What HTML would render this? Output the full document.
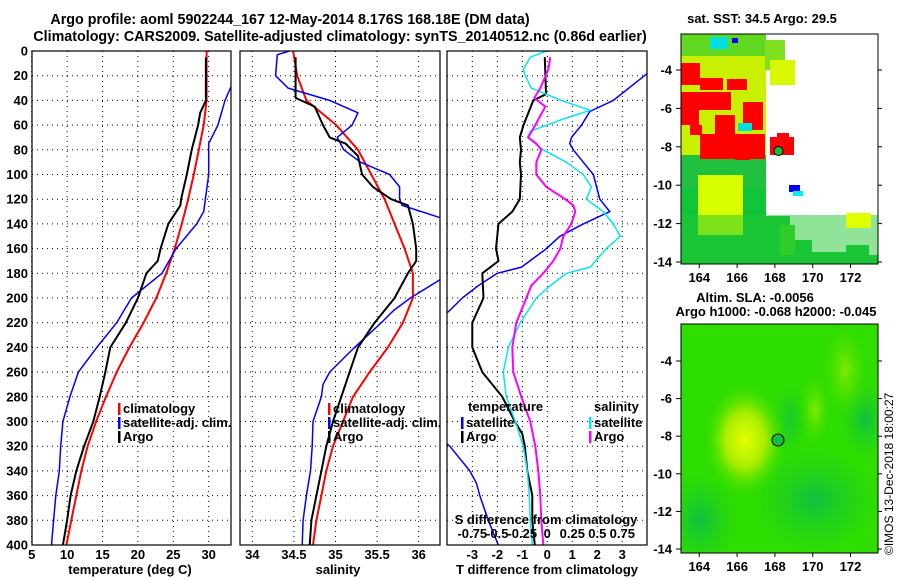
<!DOCTYPE html>
<html><head><meta charset="utf-8"><style>
body{margin:0;background:#fff}
svg{display:block;font-family:"Liberation Sans",sans-serif;font-weight:bold}
text{font-size:13px;fill:#000}
</style></head><body>
<svg id="fig" width="900" height="580" viewBox="0 0 900 580">
<defs>
<clipPath id="c1"><rect x="32" y="51" width="199" height="494"/></clipPath>
<clipPath id="c2"><rect x="240" y="51" width="200" height="494"/></clipPath>
<clipPath id="c3"><rect x="447" y="51" width="200" height="494"/></clipPath>
<clipPath id="cm1"><rect x="681" y="34" width="197" height="230"/></clipPath>
<clipPath id="cm2"><rect x="681" y="324" width="197" height="229"/></clipPath>
<radialGradient id="yb" cx="0.5" cy="0.5" r="0.5"><stop offset="0" stop-color="#e6ff00"/><stop offset="0.5" stop-color="#a8ee00"/><stop offset="1" stop-color="#50e000" stop-opacity="0"/></radialGradient>
<radialGradient id="yb2" cx="0.5" cy="0.5" r="0.5"><stop offset="0" stop-color="#80ea00"/><stop offset="1" stop-color="#50e000" stop-opacity="0"/></radialGradient>
<radialGradient id="dg" cx="0.5" cy="0.5" r="0.5"><stop offset="0" stop-color="#10c040"/><stop offset="1" stop-color="#20d020" stop-opacity="0"/></radialGradient>
</defs>
<text x="290" y="24" text-anchor="middle" style="font-size:14.3px">Argo profile: aoml 5902244_167 12-May-2014 8.176S 168.18E (DM data)</text>
<text x="340" y="41" text-anchor="middle" style="font-size:14.3px">Climatology: CARS2009. Satellite-adjusted climatology: synTS_20140512.nc (0.86d earlier)</text>
<g id="maps">
<g>
<rect x="681" y="34" width="197" height="230" fill="#fff"/>
<g clip-path="url(#cm1)">
<polygon points="681,188 766,188 766,216 790,216 790,240 812,240 812,252 846,252 846,245 869,245 869,255 878,255 878,264 681,264" fill="#12c43a"/>
<rect x="681" y="34" width="85" height="154" fill="#c8f000"/>
<rect x="681" y="155" width="85" height="33" fill="#20c040"/>
<rect x="681" y="34" width="85" height="22" fill="#60d820"/>
<rect x="765" y="40" width="20" height="30" fill="#7ee020"/>
<rect x="770" y="60" width="25" height="25" fill="#d8f800"/>
<rect x="780" y="225" width="15" height="30" fill="#40d020"/>
<rect x="698" y="175" width="45" height="60" fill="#d8ff00"/>
<rect x="681" y="215" width="197" height="49" fill="#22c832" opacity="0.5"/>
<rect x="846" y="213" width="25" height="15" fill="#e0ff00"/>
<rect x="681" y="63" width="19" height="22" fill="#ff0000"/>
<rect x="681" y="92" width="50" height="18" fill="#ff0000"/>
<rect x="700" y="78" width="23" height="12" fill="#ff0000"/>
<rect x="727" y="79" width="20" height="11" fill="#ff0000"/>
<rect x="681" y="105" width="18" height="20" fill="#ff0000"/>
<rect x="743" y="102" width="20" height="28" fill="#ff0000"/>
<rect x="700" y="134" width="65" height="25" fill="#ff0000"/>
<rect x="715" y="115" width="20" height="20" fill="#ff0000"/>
<rect x="770" y="137" width="24" height="18" fill="#ff0000"/>
<rect x="777" y="133" width="12" height="8" fill="#ff0000"/>
<rect x="690" y="125" width="12" height="10" fill="#ff0000"/>
<rect x="735" y="150" width="15" height="10" fill="#ff0000"/>
<rect x="710" y="37" width="18" height="12" fill="#00e0e0"/>
<rect x="738" y="123" width="14" height="8" fill="#00e0e0"/>
<rect x="789" y="185" width="11" height="7" fill="#0000ff"/>
<rect x="793" y="191" width="10" height="5" fill="#00f0f0"/>
<rect x="732" y="38" width="6" height="5" fill="#0000ff"/>
<circle cx="778.5" cy="151" r="4.5" fill="#10c030" stroke="#000" stroke-width="1"/>
</g>
<rect x="681" y="34" width="197" height="230" fill="none" stroke="#000" stroke-width="1"/>
</g>
<g>
<rect x="681" y="324" width="197" height="229" fill="#2ede00"/>
<g clip-path="url(#cm2)">
<ellipse cx="700" cy="520" rx="40" ry="50" fill="url(#dg)"/>
<ellipse cx="815" cy="500" rx="65" ry="55" fill="url(#dg)"/>
<ellipse cx="865" cy="420" rx="25" ry="40" fill="url(#dg)"/>
<ellipse cx="790" cy="420" rx="18" ry="40" fill="url(#dg)" opacity="0.7"/>
<ellipse cx="845" cy="370" rx="22" ry="45" fill="url(#yb2)"/>
<ellipse cx="815" cy="410" rx="15" ry="35" fill="url(#yb2)"/>
<ellipse cx="745" cy="440" rx="40" ry="55" fill="url(#yb)"/>
<circle cx="778" cy="440" r="6" fill="#10c040" stroke="#000" stroke-width="1"/>
</g>
<rect x="681" y="324" width="197" height="229" fill="none" stroke="#000" stroke-width="1"/>
</g>
<text x="762" y="23" text-anchor="middle">sat. SST: 34.5 Argo: 29.5</text>
<text x="755" y="302" text-anchor="middle">Altim. SLA: -0.0056</text>
<text x="776" y="316" text-anchor="middle">Argo h1000: -0.068 h2000: -0.045</text>
<text transform="translate(893,555) rotate(-90)" style="font-weight:normal;font-size:12px">©IMOS 13-Dec-2018 18:00:27</text>
</g>
<g id="plots"></g>
</svg>
<script>
// ---- data (depth in dbar) ----
const depthTicks=[0,20,40,60,80,100,120,140,160,180,200,220,240,260,280,300,320,340,360,380,400];
const tTicks=[5,10,15,20,25,30];
const sTicks=[34,34.5,35,35.5,36];
const dTTicks=[-3,-2,-1,0,1,2,3];
const dSTickLabels=["-0.75","-0.5","-0.25","0","0.25","0.5","0.75"];
const dSTickValues=[-0.75,-0.5,-0.25,0,0.25,0.5,0.75];
const lonTicks=[164,166,168,170,172];
const latTicks=[-4,-6,-8,-10,-12,-14];

const climT_d=[0,20,40,60,80,100,120,140,160,180,200,220,240,260,280,300,320,340,360,380,400];
const climT=[29.7,29.7,29.7,29.3,28.6,27.9,27.1,26.2,25.2,24.0,22.6,20.8,18.8,17.0,15.5,14.1,12.9,12.0,11.3,10.6,9.9];
const argoT_d=[5,40,50,60,80,100,120,125,140,160,170,180,200,220,240,260,280,300,320,340,360,380,400];
const argoT=[29.6,29.6,28.8,28.5,27.6,26.9,26.1,26.0,24.3,23.2,22.8,21.2,20.0,18.3,16.1,15.4,14.6,13.7,12.4,11.3,10.5,10.0,9.4];
const satT_d=[18,40,60,75,100,130,140,160,180,200,220,240,260,280,300,320,340,360,380,400];
const satT=[34.0,32.3,31.3,30.0,30.0,29.3,28.3,25.4,23.4,19.1,17.0,14.2,11.6,10.4,9.4,9.1,8.9,8.4,8.1,7.8];

const climS_d=[0,20,40,60,80,100,120,140,160,180,200,220,240,260,280,300,320,340,360,380,400];
const climS=[34.49,34.54,34.65,35.01,35.27,35.43,35.59,35.71,35.83,35.93,35.93,35.81,35.63,35.41,35.21,35.09,34.97,34.89,34.83,34.77,34.73];
const argoS_d=[5,20,38,45,60,70,75,85,100,110,120,125,140,160,170,180,200,220,240,260,280,300,320,340,360,380,400];
const argoS=[34.52,34.52,34.52,34.75,34.85,34.93,35.12,35.27,35.32,35.45,35.67,35.87,35.93,35.97,35.97,35.87,35.71,35.47,35.27,35.17,35.07,34.97,34.89,34.83,34.77,34.71,34.69];
const satS_d=[0,3,20,30,40,50,60,70,80,90,100,110,120,125,135,140,180,185,200,210,220,240,260,270,280,300,320,340,360,380,400];
const satS=[34.45,34.3,34.28,34.43,34.93,35.27,35.2,35.02,35.1,35.3,35.65,35.77,35.77,35.8,36.26,36.5,36.5,36.26,35.9,35.7,35.55,35.23,34.93,34.85,34.83,34.73,34.72,34.7,34.65,34.61,34.6];

const dTsat_d=[15,40,49,60,70,75,80,90,100,120,130,140,150,160,175,180,190,200,210,220,310,320,340,350,360,380,400];
const dTsat=[4.2,2.64,1.7,1.37,0.97,0.9,1.04,1.44,1.84,2.1,2.5,1.44,0.5,-0.03,-1.03,-2.0,-2.76,-3.4,-3.9,-4.5,-4.5,-3.9,-3.1,-2.83,-2.7,-2.36,-1.96];
const dTargo_d=[5,35,40,60,70,80,90,100,120,130,140,160,170,180,200,220,240,260,280,300,310,320,340,360,380,400];
const dTargo=[-0.1,-0.05,-0.56,-0.95,-1.1,-1.05,-1.1,-1.05,-1.1,-1.4,-1.95,-2.05,-1.95,-2.6,-2.55,-3.0,-3.0,-2.6,-1.8,-1.3,-1.0,-0.9,-0.8,-0.6,-0.6,-0.5];
const dSsat_d=[0,5,15,20,30,40,48,55,65,70,80,90,100,110,120,130,140,150,160,175,180,190,200,220,240,260,280,300,320,340,360,380,400];
const dSsat=[-0.01,-0.17,-0.24,-0.22,-0.16,0.14,0.43,0.16,-0.17,-0.2,-0.04,0.19,0.36,0.44,0.39,0.56,0.66,0.73,0.59,0.43,0.19,0.03,-0.11,-0.27,-0.39,-0.44,-0.41,-0.32,-0.24,-0.2,-0.18,-0.17,-0.15];
const dSargo_d=[5,15,30,38,45,60,70,75,80,90,100,110,120,125,130,140,150,160,170,180,190,200,220,240,260,280,300,320,340,360,380,400];
const dSargo=[0.03,0.01,-0.07,-0.13,-0.02,-0.12,-0.19,-0.11,-0.06,-0.11,-0.11,-0.01,0.18,0.26,0.28,0.24,0.16,0.13,0.06,-0.04,-0.16,-0.21,-0.31,-0.35,-0.34,-0.26,-0.17,-0.12,-0.09,-0.07,-0.06,-0.04];

// ---- scales ----
const yD=d=>51+d*(494/400);
const xT=v=>31.7+(v-5)*7.08;
const xS=v=>252.3+(v-34)*83.2;
const xdT=v=>547.3+v*25;
const xdS=v=>547.3+v*100;
const xLon=v=>699.3+(v-164)*18.9;
const yLat1=v=>70+(-4-v)*19.2;
const yLat2=v=>361+(-4-v)*18.8;

const NS="http://www.w3.org/2000/svg";
const root=document.getElementById('plots');
function mk(tag,attrs,parent){const e=document.createElementNS(NS,tag);for(const k in attrs)e.setAttribute(k,attrs[k]);(parent||root).appendChild(e);return e;}
function txt(s,x,y,anchor,parent){const t=mk('text',{x:x,y:y,'text-anchor':anchor||'start'},parent);t.textContent=s;return t;}

function panel(name,x0,x1,xticks,xf,xlabels,clip){
  const g=mk('g',{});
  
  
  depthTicks.forEach(d=>{if(d>0&&d<400)mk('line',{x1:x0,x2:x1,y1:yD(d),y2:yD(d),stroke:'#000','stroke-width':1,'stroke-dasharray':'1,4'},g);});
  xticks.forEach((v,i)=>{const x=xf(v);mk('line',{x1:x,x2:x,y1:51,y2:545,stroke:'#000','stroke-width':1,'stroke-dasharray':'1,4'},g);
    if(xlabels){const t=txt(xlabels[i],x,559,'middle',g);}});
  const lg=mk('g',{'clip-path':'url(#'+clip+')'},g);
  return {g:g,lg:lg};
}
function series(p,name,ds,vs,xf,color,w){
  const pts=ds.map((d,i)=>xf(vs[i]).toFixed(1)+','+yD(d).toFixed(1)).join(' ');
  const pl=mk('polyline',{points:pts,fill:'none',stroke:color,'stroke-width':w,'stroke-linejoin':'round'},p.lg);
  
  
}
function frame(p,x0,x1){mk('rect',{x:x0,y:51,width:x1-x0,height:494,fill:'none',stroke:'#000','stroke-width':1.2},p.g);}
function legend(p,x,y,color,label,name){
  mk('rect',{x:x,y:y-10,width:2.5,height:12,fill:color},p.g);
  const t=txt(label,x+5,y,'start',p.g);
  
  
}

depthTicks.forEach(d=>{const t=txt(String(d),28,yD(d)+4.5,'end');
  
  });

const p1=panel('temperature-panel',32,231,tTicks,xT,tTicks.map(String),'c1');
series(p1,'temp-climatology-line',climT_d,climT,xT,'#ff0000',2);
series(p1,'temp-satellite-line',satT_d,satT,xT,'#0000ff',1.5);
series(p1,'temp-argo-line',argoT_d,argoT,xT,'#000',2);
frame(p1,32,231);
legend(p1,118,413,'#ff0000','climatology','legend-climatology');
legend(p1,118,427,'#0000ff','satellite-adj. clim.','legend-satellite-adj');
legend(p1,118,441,'#000','Argo','legend-argo');
const tt1=txt('temperature (deg C)',130,574,'middle');



const p2=panel('salinity-panel',240,440,sTicks,xS,['34','34.5','35','35.5','36'],'c2');
series(p2,'sal-climatology-line',climS_d,climS,xS,'#ff0000',2);
series(p2,'sal-satellite-line',satS_d,satS,xS,'#0000ff',1.5);
series(p2,'sal-argo-line',argoS_d,argoS,xS,'#000',2);
frame(p2,240,440);
legend(p2,328,413,'#ff0000','climatology','legend-climatology-s');
legend(p2,328,427,'#0000ff','satellite-adj. clim.','legend-satellite-adj-s');
legend(p2,328,441,'#000','Argo','legend-argo-s');
const tt2=txt('salinity',338,574,'middle');



const p3=panel('difference-panel',447,647,dTTicks,xdT,dTTicks.map(String),'c3');
series(p3,'dT-satellite-line',dTsat_d,dTsat,xdT,'#0000ff',1.5);
series(p3,'dT-argo-line',dTargo_d,dTargo,xdT,'#000',2);
series(p3,'dS-satellite-line',dSsat_d,dSsat,xdS,'#00e8f0',1.5);
series(p3,'dS-argo-line',dSargo_d,dSargo,xdS,'#ff00ff',2);
frame(p3,447,647);
const lt=txt('temperature',468,411,'start',p3.g);


legend(p3,461,427,'#0000ff','satellite','legend-dT-satellite');
legend(p3,461,441,'#000','Argo','legend-dT-argo');
const ls=txt('salinity',594,411,'start',p3.g);


legend(p3,589,427,'#00e8f0','satellite','legend-dS-satellite');
legend(p3,589,441,'#ff00ff','Argo','legend-dS-argo');
const sdt=txt('S difference from climatology',546,524,'middle',p3.g);


dSTickValues.forEach((v,i)=>{const t=txt(dSTickLabels[i],xdS(v),538,'middle',p3.g);
  
  });
const tt3=txt('T difference from climatology',547,574,'middle');



function mapAxes(name,yBottom,yf){
  const g=mk('g',{});
  
  
  lonTicks.forEach(v=>{const x=xLon(v);mk('line',{x1:x,x2:x,y1:yBottom,y2:yBottom+4,stroke:'#000'},g);txt(String(v),x,yBottom+18,'middle',g);});
  latTicks.forEach(v=>{const y=yf(v);mk('line',{x1:676,x2:681,y1:y,y2:y,stroke:'#000'},g);mk('line',{x1:878,x2:882,y1:y,y2:y,stroke:'#000'},g);txt(String(v),672,y+4.5,'end',g);});
}
mapAxes('sst-map-axes',264,yLat1);
mapAxes('sla-map-axes',553,yLat2);
</script>
</body></html>
